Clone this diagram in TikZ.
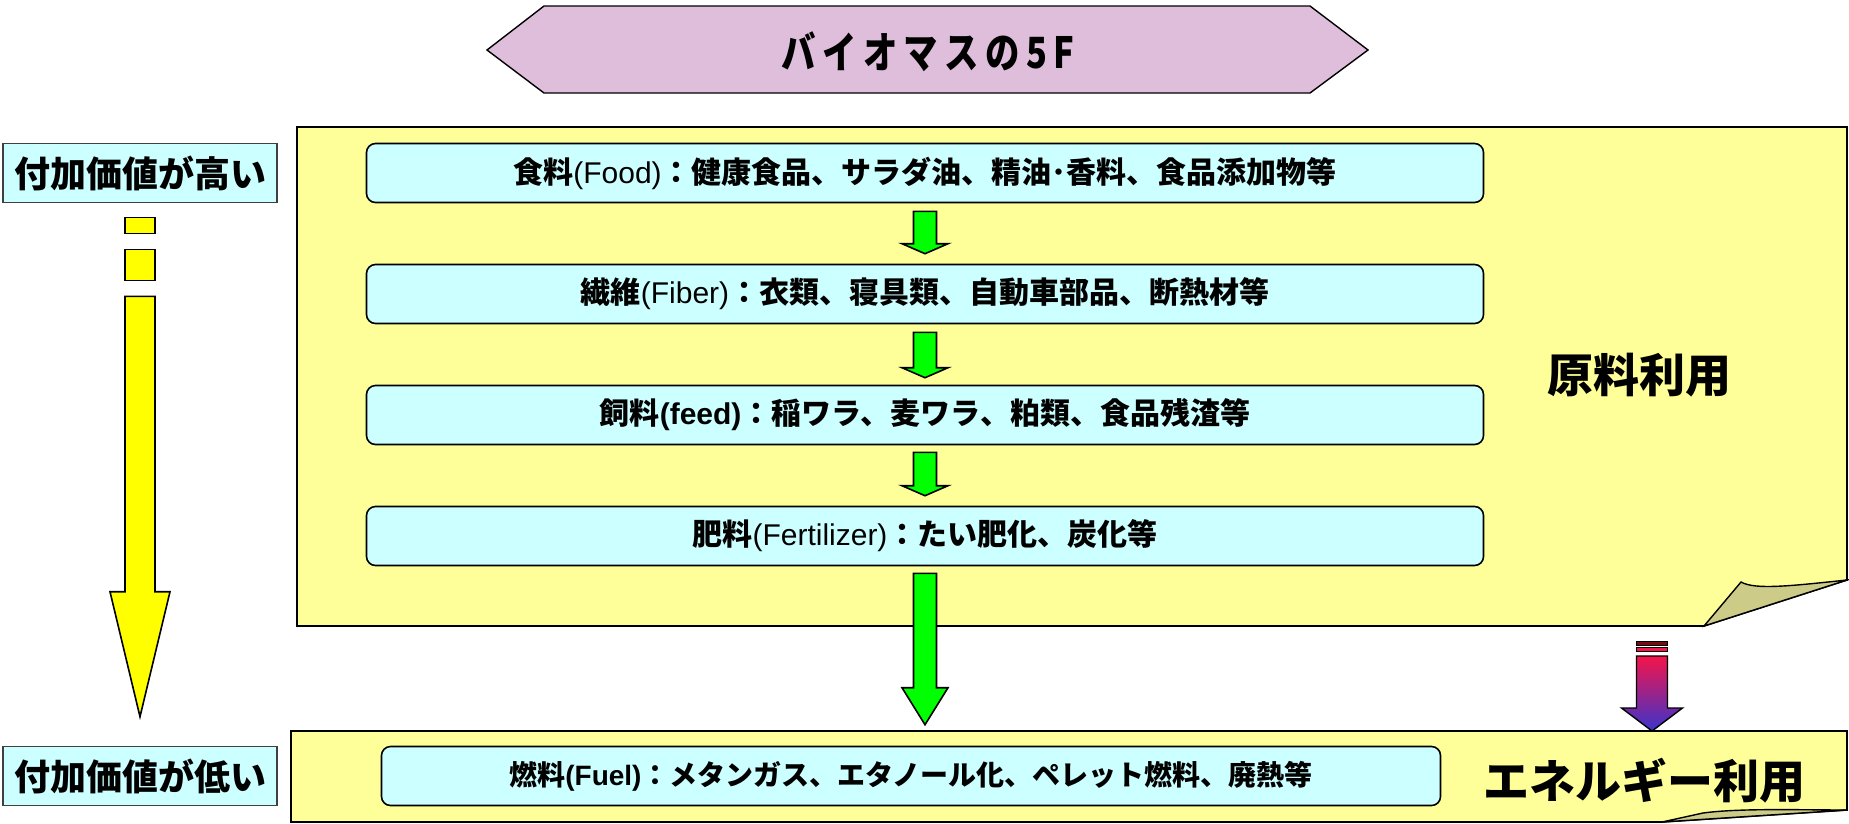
\documentclass[tikz,border=0pt]{standalone}
\usepackage{fontspec}
\newfontfamily\jp{Noto Sans CJK JP}
\newfontfamily\jpn{Noto Sans CJK JP}[FakeStretch=0.8,LetterSpace=15]
\newfontfamily\lat{Liberation Sans}
\usetikzlibrary{calc}
\definecolor{hexfill}{HTML}{DFBEDC}
\definecolor{notey}{HTML}{FFFF99}
\definecolor{flapc}{HTML}{CCCC88}
\definecolor{cy}{HTML}{CCFFFF}
\definecolor{gr}{HTML}{00FF00}
\definecolor{ye}{HTML}{FFFF00}
\definecolor{redA}{HTML}{F5144B}
\definecolor{blueA}{HTML}{3A34CC}
\definecolor{darkred}{HTML}{7A0A10}
\newcommand\blockarr[6]{%
  \path[#1] let \p1=#2, \p2=#3 in
    (\x1-#4,\y1) -- (\x1+#4,\y1) -- (\x1+#4,\y2+#6) -- (\x1+#5,\y2+#6)
    -- (\x1,\y2) -- (\x1-#5,\y2+#6) -- (\x1-#4,\y2+#6) -- cycle;}
\newcommand\la[1]{{\lat\mdseries #1}}
\newcommand\lb[1]{{\lat\bfseries #1}}
\begin{document}
\begin{tikzpicture}[x=1pt,y=-1pt,line join=miter,
  cbox/.style={draw=black,line width=1.6pt,fill=cy,rounded corners=9pt,inner sep=0pt,
    minimum height=59pt,font=\jp\bfseries\fontsize{30}{34}\selectfont},
  sbox/.style={draw=black!75,line width=1.6pt,fill=cy,inner sep=0pt,
    minimum width=274pt,minimum height=59pt,font=\jp\bfseries\fontsize{36}{40}\selectfont},
  note/.style={draw=black,line width=1.6pt,fill=notey},
  flapst/.style={draw=black,line width=1.4pt,fill=flapc},
  garr/.style={draw=black,line width=1.6pt,fill=gr},
  yarr/.style={draw=black,line width=1.6pt,fill=ye},
  bigtxt/.style={font=\jp\bfseries\fontsize{46}{50}\selectfont,inner sep=0pt},
]
\useasboundingbox (0,0) rectangle (1849,823);
% title hexagon
\path[draw=black,line width=1.4pt,fill=hexfill]
  (487,50) -- (544,6) -- (1310,6) -- (1368,50) -- (1310,93) -- (544,93) -- cycle;
\node[font=\jpn\bfseries\fontsize{43}{46}\selectfont,inner sep=0pt] (title) at (928,52) {バイオマスの5F};
% upper note
\path[note] (297,127) -- (1847,127) -- (1847,580) -- (1704,626) -- (297,626) -- cycle;
\path[flapst] (1704,626) -- (1741,582) .. controls (1755,590) and (1790,586) .. (1847,580) -- cycle;
% lower band
\path[note] (291,731) -- (1847,731) -- (1847,810) -- (1662,822) -- (291,822) -- cycle;
\path[flapst] (1662,822) -- (1703,813) .. controls (1740,808) and (1800,810) .. (1847,810) -- cycle;
% boxes
\node[cbox,minimum width=1117pt] (b1) at (925,173)
  {食料\la{(Food)}：健康食品、サラダ油、精油･香料、食品添加物等};
\node[cbox,minimum width=1117pt] (b2) at (925,294)
  {繊維\la{(Fiber)}：衣類、寝具類、自動車部品、断熱材等};
\node[cbox,minimum width=1117pt] (b3) at (925,415)
  {飼料\lb{(feed)}：稲ワラ、麦ワラ、粕類、食品残渣等};
\node[cbox,minimum width=1117pt] (b4) at (925,536)
  {肥料\la{(Fertilizer)}：たい肥化、炭化等};
\node[cbox,minimum width=1059pt,font=\jp\bfseries\fontsize{28}{32}\selectfont] (b5) at (911,776)
  {燃料\lb{(Fuel)}：メタンガス、エタノール化、ペレット燃料、廃熱等};
\node[bigtxt] (raw) at (1639,375) {原料利用};
\node[bigtxt] (ene) at (1644,781) {エネルギー利用};
% left labels
\node[sbox] (hi) at (140,173) {付加価値が高い};
\node[sbox] (lo) at (140,776) {付加価値が低い};
% green arrows
\blockarr{garr}{($(b1.south)+(0,8)$)}{($(b2.north)+(0,-10)$)}{11.5pt}{23pt}{10pt}
\blockarr{garr}{($(b2.south)+(0,8)$)}{($(b3.north)+(0,-7)$)}{11.5pt}{23pt}{10pt}
\blockarr{garr}{($(b3.south)+(0,7)$)}{($(b4.north)+(0,-10)$)}{11.5pt}{23pt}{10pt}
\blockarr{garr}{($(b4.south)+(0,7)$)}{($(b5.north)+(0,-21)$)}{11.5pt}{23pt}{37pt}
% yellow arrow
\coordinate (ys) at ($(hi.south)+(0,14)$);
\path[yarr] ($(ys)+(-15,0)$) rectangle ($(ys)+(15,16)$);
\path[yarr] ($(ys)+(-15,32)$) rectangle ($(ys)+(15,63)$);
\blockarr{yarr}{($(ys)+(0,79)$)}{($(lo.north)+(0,-29)$)}{15pt}{30pt}{125pt}
% gradient arrow
\coordinate (gs) at (1652,641);
\path[draw=black,line width=1pt,fill=darkred] ($(gs)+(-16,0)$) rectangle ($(gs)+(15,4)$);
\path[draw=black,line width=1pt,fill=redA] ($(gs)+(-16,6)$) rectangle ($(gs)+(15,10)$);
\blockarr{draw=black,line width=1.4pt,top color=redA,bottom color=blueA}{($(gs)+(0,15)$)}{(1652,731)}{15.5pt}{30.5pt}{23pt}
\end{tikzpicture}
\end{document}
